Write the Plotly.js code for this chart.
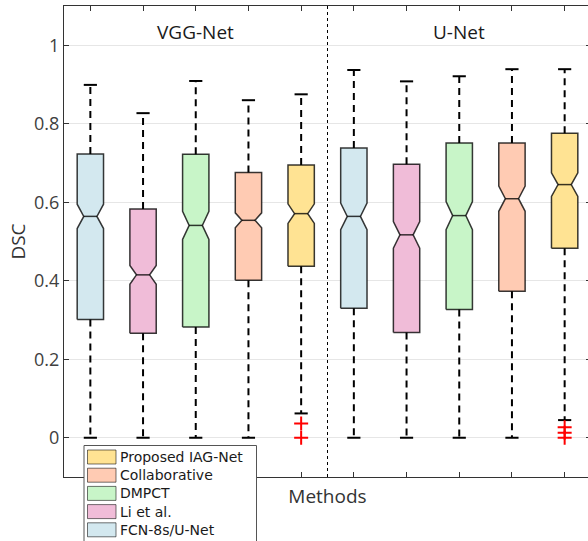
<!DOCTYPE html>
<html>
<head>
<meta charset="utf-8">
<script src="https://cdn.plot.ly/plotly-3.0.1.min.js"></script>
<style>
html, body { margin: 0; padding: 0; overflow: hidden; background: #fff; }
#chart { width: 591px; height: 541px; }
</style>
</head>
<body>
<div id="chart"></div>
<script>
// ---- Data ----
var groups = ['VGG-Net', 'U-Net'];
var methods = ['FCN-8s/U-Net', 'Li et al.', 'DMPCT', 'Collaborative', 'Proposed IAG-Net'];
var colors = ['#D3E8EF', '#F0BCD8', '#C8F5C8', '#FFCBB3', '#FFE393'];

// per method: [VGG-Net, U-Net]
var upperWhisker = [[0.899, 0.937], [0.827, 0.908], [0.909, 0.921], [0.860, 0.939], [0.875, 0.939]];
var q3Values     = [[0.723, 0.738], [0.583, 0.697], [0.722, 0.751], [0.676, 0.751], [0.695, 0.776]];
var medianValues = [[0.564, 0.564], [0.415, 0.517], [0.541, 0.566], [0.554, 0.609], [0.571, 0.645]];
var q1Values     = [[0.301, 0.330], [0.266, 0.268], [0.282, 0.327], [0.401, 0.373], [0.437, 0.483]];
var lowerWhisker = [[0.000, 0.000], [0.000, 0.000], [0.000, 0.000], [0.000, 0.000], [0.062, 0.045]];
var notchSpans   = [[0.031, 0.034], [0.024, 0.034], [0.036, 0.036], [0.019, 0.032], [0.025, 0.030]];
// outliers per method: [VGG-Net list, U-Net list]
var outliers = [[[], []], [[], []], [[], []], [[], []], [[0.036, 0.000], [0.027, 0.013, 0.000]]];

var yTicks = [0, 0.2, 0.4, 0.6, 0.8, 1];
var yTickText = ['0', '0.2', '0.4', '0.6', '0.8', '1'];

// ---- Build traces ----
var nM = methods.length;
function pos(g, m) { return 1 + g * nM + m; }
var halfW = 0.25;      // half box width (x units)
var notchFrac = 0.5;   // narrow part relative to full width
var capHalf = 0.125;
var edgeColor = 'rgba(0,0,0,0.78)';

var traces = [];
for (var m = 0; m < nM; m++) {
  for (var g = 0; g < groups.length; g++) {
    var p = pos(g, m), q1 = q1Values[m][g], q3 = q3Values[m][g], md = medianValues[m][g], ns = notchSpans[m][g];
    var a = p - halfW, b = p + halfW, an = p - halfW * notchFrac, bn = p + halfW * notchFrac;
    traces.push({
      type: 'scatter', mode: 'lines', name: methods[m] + ' (' + groups[g] + ')',
      x: [a, b, b, bn, b, b, a, a, an, a, a],
      y: [q1, q1, md - ns, md, md + ns, q3, q3, md + ns, md, md - ns, q1],
      fill: 'toself', fillcolor: colors[m],
      line: { color: edgeColor, width: 1.5 }, showlegend: false, hoverinfo: 'skip'
    });
    traces.push({
      type: 'scatter', mode: 'lines', x: [an, bn], y: [md, md],
      line: { color: edgeColor, width: 1.5 }, showlegend: false, hoverinfo: 'skip'
    });
  }
}
for (var m = 0; m < nM; m++) {
  var wx = [], wy = [], cx = [], cy = [], ox = [], oy = [];
  for (var g = 0; g < groups.length; g++) {
    var p = pos(g, m);
    wx.push(p, p, null, p, p, null);
    wy.push(q3Values[m][g], upperWhisker[m][g], null, q1Values[m][g], lowerWhisker[m][g], null);
    cx.push(p - capHalf, p + capHalf, null, p - capHalf, p + capHalf, null);
    cy.push(upperWhisker[m][g], upperWhisker[m][g], null, lowerWhisker[m][g], lowerWhisker[m][g], null);
    outliers[m][g].forEach(function (v) { ox.push(p); oy.push(v); });
  }
  traces.push({ type: 'scatter', mode: 'lines', x: wx, y: wy, showlegend: false, hoverinfo: 'skip',
    line: { color: '#000', width: 2, dash: '7px,5px' } });
  traces.push({ type: 'scatter', mode: 'lines', x: cx, y: cy, showlegend: false, hoverinfo: 'skip',
    line: { color: '#000', width: 2 } });
  if (ox.length) {
    traces.push({ type: 'scatter', mode: 'markers', x: ox, y: oy, showlegend: false, hoverinfo: 'skip',
      marker: { symbol: 'cross-thin', size: 10, line: { color: '#ff0000', width: 2 } } });
  }
}

// ---- Layout ----
var W = 591, H = 541, ML = 64, MT = 6, MB = 64, MR = 0;
var PW = W - ML - MR, PH = H - MT - MB;
function px2x(px) { return (px - ML) / PW; }
function py2y(py) { return (H - MB - py) / PH; }

var shapes = [
  { type: 'line', xref: 'x', yref: 'paper', x0: nM + 0.5, x1: nM + 0.5, y0: 0, y1: 1,
    line: { color: '#000', width: 1, dash: 'dot' } }
];
var annotations = [];
groups.forEach(function (gname, g) {
  annotations.push({ xref: 'x', yref: 'y', x: pos(g, 2), y: 1.034, text: gname, showarrow: false,
    font: { family: 'Open Sans', size: 19, color: '#1a1a1a' }, xanchor: 'center', yanchor: 'middle' });
});

// manual legend (reversed order as in the reference)
var legL = 84, legT = 445.5, legR = 256.5, legB = 542;
var rowPitch = 18.2, firstTop = 450;
shapes.push({ type: 'rect', xref: 'paper', yref: 'paper', layer: 'above',
  x0: px2x(legL), x1: px2x(legR), y0: py2y(legB), y1: py2y(legT),
  fillcolor: '#ffffff', line: { color: '#555', width: 1 } });
var legendLines = [];
for (var i = 0; i < nM; i++) {
  var mi = nM - 1 - i;
  var rowTop = firstTop + i * rowPitch;
  shapes.push({ type: 'rect', xref: 'paper', yref: 'paper', layer: 'above',
    x0: px2x(87.5), x1: px2x(116), y0: py2y(rowTop + 14), y1: py2y(rowTop),
    fillcolor: colors[mi], line: { color: 'rgba(0,0,0,0.55)', width: 1 } });
  legendLines.push(methods[mi]);
}
annotations.push({ xref: 'paper', yref: 'paper', x: px2x(118),
  y: py2y(firstTop + 7.3 + 2 * rowPitch),
  text: legendLines.join('<br>'), showarrow: false, xanchor: 'left', yanchor: 'middle', align: 'left',
  font: { family: 'DejaVu Sans', size: 14, color: '#1a1a1a' } });

var xTickVals = [];
for (var k = 1; k <= groups.length * nM; k++) xTickVals.push(k);

var layout = {
  width: W, height: H,
  margin: { l: ML, r: MR, t: MT, b: MB, pad: 0 },
  paper_bgcolor: '#ffffff', plot_bgcolor: '#ffffff',
  showlegend: false,
  font: { family: 'Open Sans', color: '#404040' },
  xaxis: {
    range: [0.5, groups.length * nM + 0.5], tickvals: xTickVals,
    showticklabels: false, ticks: 'inside', ticklen: 5, tickcolor: '#333', tickwidth: 1,
    showline: true, linecolor: '#333', linewidth: 1, mirror: 'ticks', showgrid: false, zeroline: false,
    title: { text: 'Methods', standoff: 12, font: { family: 'Open Sans', size: 19, color: '#333' } }
  },
  yaxis: {
    range: [-0.1, 1.1], tickvals: yTicks, ticktext: yTickText,
    tickfont: { family: 'Open Sans', size: 18, color: '#404040' },
    ticks: 'inside', ticklen: 5, tickcolor: '#333', tickwidth: 1,
    showline: true, linecolor: '#333', linewidth: 1, mirror: 'ticks',
    showgrid: true, gridcolor: '#e6e6e6', gridwidth: 1, zeroline: false,
    title: { text: 'DSC', standoff: 3, font: { family: 'Open Sans', size: 19, color: '#333' } }
  },
  shapes: shapes, annotations: annotations
};

Plotly.newPlot('chart', traces, layout, { displayModeBar: false, staticPlot: true });
</script>
</body>
</html>
